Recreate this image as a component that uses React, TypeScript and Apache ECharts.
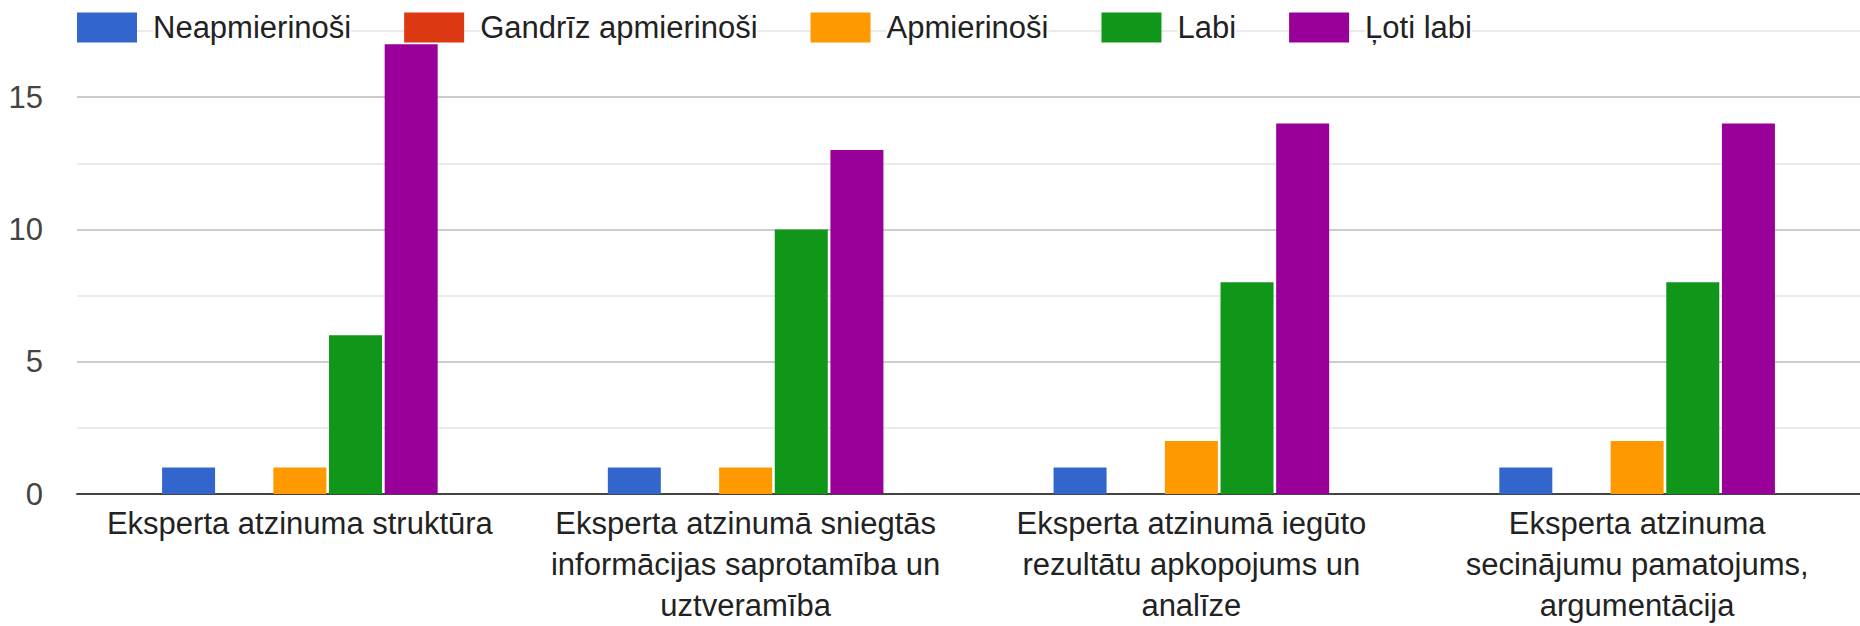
import React, { useEffect, useRef } from "react";
import * as echarts from "echarts";

const categories = [
  "Eksperta atzinuma struktūra",
  "Eksperta atzinumā sniegtās\ninformācijas saprotamība un\nuztveramība",
  "Eksperta atzinumā iegūto\nrezultātu apkopojums un\nanalīze",
  "Eksperta atzinuma\nsecinājumu pamatojums,\nargumentācija",
];
const seriesNames = ["Neapmierinoši", "Gandrīz apmierinoši", "Apmierinoši", "Labi", "Ļoti labi"];
const neapmierinosi = [1, 1, 1, 1];
const gandrizApmierinosi = [0, 0, 0, 0];
const apmierinosi = [1, 1, 2, 2];
const labi = [6, 10, 8, 8];
const lotiLabi = [17, 13, 14, 14];
const seriesColors = ["#3366cc", "#dc3912", "#ff9900", "#109618", "#990099"];
const yTicks = [0, 5, 10, 15];

const FONT = "'Liberation Sans', Arial, sans-serif";

export default function App() {
  const ref = useRef<HTMLDivElement>(null);
  useEffect(() => {
    document.body.style.margin = "0";
    const chart = echarts.init(ref.current!, null, { renderer: "svg" });
    const values = [neapmierinosi, gandrizApmierinosi, apmierinosi, labi, lotiLabi];
    chart.setOption({
      animation: false,
      color: seriesColors,
      legend: {
        left: 77,
        top: 12,
        padding: 0,
        icon: "rect",
        itemWidth: 60,
        itemHeight: 30,
        itemGap: 53,
        formatter: (name: string) => `{g|}{t|${name}}`,
        textStyle: {
          lineHeight: 30,
          rich: {
            g: { width: 11, lineHeight: 30 },
            t: { backgroundColor: "#fff", fontSize: 31, lineHeight: 30, color: "#222", fontFamily: FONT },
          },
        },
        data: seriesNames,
      },
      grid: { left: 77, top: 31, width: 1786, height: 468, containLabel: false },
      xAxis: {
        type: "category",
        data: categories,
        axisLine: { show: true, lineStyle: { color: "#444", width: 2 } },
        axisTick: { show: false },
        axisLabel: {
          interval: 0,
          margin: 9,
          fontSize: 31,
          lineHeight: 41,
          color: "#222",
          fontFamily: FONT,
          align: "center",
        },
      },
      yAxis: {
        type: "value",
        min: 0,
        max: 17.5,
        interval: 2.5,
        axisLine: { show: false },
        axisTick: { show: false },
        axisLabel: {
          margin: 34,
          fontSize: 31,
          color: "#444",
          fontFamily: FONT,
          formatter: (v: number) => (yTicks.includes(v) ? String(v) : ""),
        },
        splitLine: { lineStyle: { color: ["#cccccc", "#ebebeb"], width: 2 } },
      },
      series: seriesNames.map((name, i) => ({
        name,
        type: "bar",
        data: values[i],
        barWidth: 53,
        barGap: "5%",
        itemStyle: { color: seriesColors[i] },
      })),
    });
    return () => chart.dispose();
  }, []);
  return <div ref={ref} style={{ width: 1860, height: 626, position: "absolute", left: 0, top: 0 }} />;
}
